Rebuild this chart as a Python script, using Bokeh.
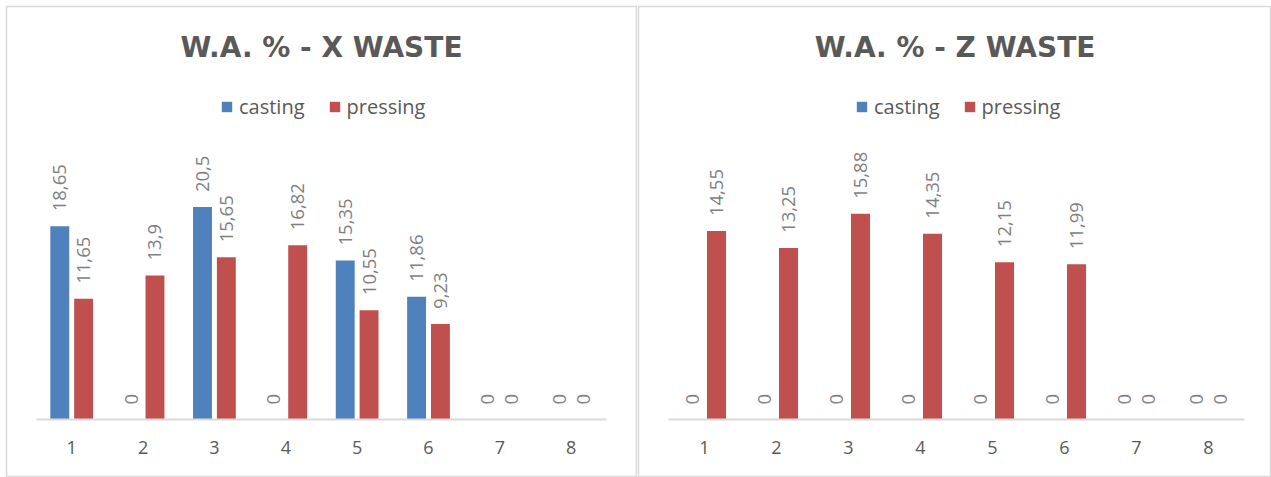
from math import pi
from bokeh.plotting import figure
from bokeh.models import (Range1d, FixedTicker, LinearAxis, Legend, LegendItem,
                          Label, ColumnDataSource)
from bokeh.layouts import row
from bokeh.transform import dodge
from bokeh.core.properties import value
from bokeh.embed import file_html
from bokeh.resources import INLINE

# ---- data ----
categories = ["1", "2", "3", "4", "5", "6", "7", "8"]
x_waste_casting = [18.65, 0, 20.5, 0, 15.35, 11.86, 0, 0]
x_waste_pressing = [11.65, 13.9, 15.65, 16.82, 10.55, 9.23, 0, 0]
z_waste_casting = [0, 0, 0, 0, 0, 0, 0, 0]
z_waste_pressing = [14.55, 13.25, 15.88, 14.35, 12.15, 11.99, 0, 0]
series = ["casting", "pressing"]
colors = ["#4f81bd", "#c0504d"]
titles = ["W.A. % - X WASTE", "W.A. % - Z WASTE"]
y_max = [25, 20]


def fmt(v):
    return f"{v:g}".replace(".", ",")


def make_chart(title, casting, pressing, width, ymax, border_left, border_right,
               cat1_px, step_px, legend_x):
    H = 477
    frame_top, frame_bottom = 6, 476
    base_px, top_px = 419, 160
    ppu = (base_px - top_px) / ymax
    y0 = -(frame_bottom - base_px) / ppu
    y1 = (base_px - frame_top) / ppu
    frame_left = border_left
    frame_right = width - border_right
    x0 = 1 - (cat1_px - frame_left) / step_px
    x1 = 1 + (frame_right - cat1_px) / step_px

    p = figure(width=width, height=H, output_backend="svg", toolbar_location=None,
               x_range=Range1d(x0, x1), y_range=Range1d(y0, y1),
               x_axis_location=None, y_axis_location=None,
               min_border_left=border_left, min_border_right=border_right,
               min_border_top=frame_top, min_border_bottom=H - frame_bottom)
    p.grid.visible = False
    p.outline_line_color = "#d9d9d9"
    p.outline_line_width = 1.5
    p.background_fill_color = "white"
    p.border_fill_color = "white"

    xs = list(range(1, len(categories) + 1))
    src = ColumnDataSource(dict(
        x=xs,
        casting=casting,
        pressing=pressing,
        casting_lbl=[fmt(v) for v in casting],
        pressing_lbl=[fmt(v) for v in pressing],
    ))
    off = 0.167
    bw = 0.265
    r1 = p.vbar(x=dodge("x", -off, range=p.x_range), top="casting", width=bw,
                source=src, fill_color=colors[0], line_color=None)
    r2 = p.vbar(x=dodge("x", off, range=p.x_range), top="pressing", width=bw,
                source=src, fill_color=colors[1], line_color=None)
    for o, col in ((-off, "casting"), (off, "pressing")):
        p.text(x=dodge("x", o, range=p.x_range), y=col, text=col + "_lbl",
               source=src, angle=pi / 2, text_align="left",
               text_baseline="middle", y_offset=-15,
               text_color="#7f7f7f", text_font=value("Open Sans"),
               text_font_size="18.5px")

    ax = LinearAxis(fixed_location=0)
    ax.ticker = FixedTicker(ticks=xs)
    ax.major_label_overrides = {i: c for i, c in zip(xs, categories)}
    ax.bounds = (0.5, len(categories) + 0.5)
    ax.axis_line_color = "#d9d9d9"
    ax.axis_line_width = 2
    ax.major_tick_line_color = None
    ax.minor_tick_line_color = None
    ax.major_label_text_font = "Open Sans"
    ax.major_label_text_font_size = "18px"
    ax.major_label_text_color = "#595959"
    ax.major_label_standoff = 15
    p.add_layout(ax, "below")

    p.add_layout(Label(x=(x0 + x1) / 2, y=(base_px - 47) / ppu, text=title,
                       text_align="center", text_baseline="middle",
                       text_font="DejaVu Sans", text_font_style="bold",
                       text_font_size="28px", text_color="#595959"))

    legend = Legend(items=[LegendItem(label=series[0], renderers=[r1]),
                           LegendItem(label=series[1], renderers=[r2])],
                    orientation="horizontal",
                    location=(legend_x, frame_bottom - 120),
                    glyph_width=13, glyph_height=13, label_standoff=6,
                    spacing=23, padding=0, margin=0, label_height=22,
                    label_text_font="Open Sans", label_text_font_size="20px",
                    label_text_color="#595959",
                    border_line_color=None, background_fill_alpha=0)
    p.add_layout(legend, "center")
    return p


left = make_chart(titles[0], x_waste_casting, x_waste_pressing, 637, y_max[0],
                  6, 1, 71.2, 71.36, 214)
right = make_chart(titles[1], z_waste_casting, z_waste_pressing, 634, y_max[1],
                   1, 0, 67, 72, 217)

layout = row(left, right)
open("out.html", "w").write(file_html(layout, INLINE))
